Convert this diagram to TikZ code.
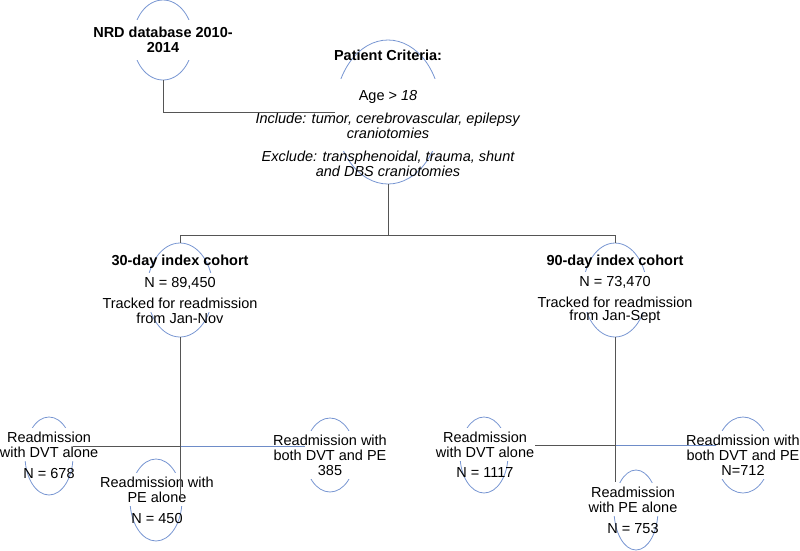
\documentclass[tikz,border=0pt]{standalone}
\usepackage{fontspec}
\setmainfont{Liberation Sans}
\usetikzlibrary{calc,positioning,shapes.geometric}
\definecolor{ringblue}{RGB}{120,150,210}
\definecolor{linegray}{RGB}{85,85,85}
\definecolor{lineblue}{RGB}{110,140,200}

\begin{document}
\begin{tikzpicture}[x=1pt,y=-1pt,
  ring/.style={ellipse,draw=ringblue,line width=0.8pt,inner sep=0},
  txt/.style={align=center,font=\fontsize{14.5}{15}\selectfont,inner sep=1pt},
  itxt/.style={txt,font=\fontsize{14.5}{15}\selectfont\itshape},
  cover/.style={txt,fill=white,inner ysep=4pt},
  head/.style={txt,font=\fontsize{14.5}{15}\selectfont\bfseries},
  link/.style={draw=linegray,line width=0.9pt},
  bluelink/.style={draw=lineblue,line width=0.9pt}]

\useasboundingbox (0,0) rectangle (800,550);

% rings
\node[ring,minimum width=60pt,minimum height=80pt] (nrd) at (163,40) {};
\node[ring,minimum width=106pt,minimum height=144pt] (crit) at (388,112) {};
\node[ring,minimum width=66pt,minimum height=94pt] (coh30) at (180,290) {};
\node[ring,minimum width=64pt,minimum height=94pt] (coh90) at (615,290) {};
\node[ring,minimum width=48pt,minimum height=78pt] (dvt30) at (49,456) {};
\node[ring,minimum width=52pt,minimum height=82pt] (pe30) at (156,500) {};
\node[ring,minimum width=50pt,minimum height=74pt] (both30) at (330,455) {};
\node[ring,minimum width=48pt,minimum height=76pt] (dvt90) at (484,455) {};
\node[ring,minimum width=44pt,minimum height=80pt] (pe90) at (636,510) {};
\node[ring,minimum width=54pt,minimum height=76pt] (both90) at (743,455) {};

% texts
\node[cover,head,fill=white,inner ysep=7pt] (nrdtext) at (163,40) {NRD database 2010-\\2014};

\node[head] (crithead) at (388,55) {Patient Criteria:};
\node[cover,inner ysep=12pt] (crittext) at (388,115) {Age > \textit{18}\\[8pt]\textit{Include: tumor, cerebrovascular, epilepsy}\\\textit{craniotomies}};
\node[itxt] (critexcl) at (388,164) {Exclude: transphenoidal, trauma, shunt\\and DBS craniotomies};

\node[head] (coh30head) at (180,262) {30-day index cohort};
\node[cover] (coh30text) at (180,292.5) {N = 89,450\\[6pt]Tracked for readmission};
\node[txt] (coh30tail) at (180,318) {from Jan-Nov};

\node[head] (coh90head) at (615,262) {90-day index cohort};
\node[cover] (coh90text) at (615,292) {N = 73,470\\[6pt]Tracked for readmission};
\node[txt] (coh90tail) at (615,317) {from Jan-Sept};

\node[cover] (dvt30text) at (49,444.5) {Readmission\\with DVT alone};
\node[txt] (dvt30n) at (49,473) {N = 678};
\node[cover] (pe30text) at (157,489.5) {Readmission with\\PE alone};
\node[txt] (pe30n) at (157,518) {N = 450};
\node[cover] (both30text) at (330,455) {Readmission with\\both DVT and PE\\385};

\node[cover] (dvt90text) at (485,444.5) {Readmission\\with DVT alone};
\node[txt] (dvt90n) at (485,473) {N = 1117};
\node[cover] (pe90text) at (633,499.5) {Readmission\\with PE alone};
\node[txt] (pe90n) at (633,528) {N = 753};
\node[cover] (both90text) at (743,455) {Readmission with\\both DVT and PE\\N=712};

% connectors
\coordinate (fork) at (388,235);
\coordinate (hub30) at (180,446);
\coordinate (hub90) at (615,445);

\draw[link] (nrd.south) |- (crit.west);
\draw[link] (crit.south) -- (fork);
\draw[link] (fork) -| (coh30.north);
\draw[link] (fork) -| (coh90.north);

\draw[link] (coh30.south) -- (hub30);
\draw[link] (hub30) -- (hub30 -| dvt30.east);
\draw[bluelink] (hub30) -- (hub30 -| both30.west);
\draw[link] (hub30) -- (hub30 |- pe30.east);

\draw[link] (coh90.south) -- (hub90);
\draw[link] (hub90) -- (hub90 -| dvt90text.east);
\draw[bluelink] (hub90) -- (hub90 -| both90.west);
\draw[link] (hub90) -- (hub90 |- pe90text.north);

\end{tikzpicture}
\end{document}
